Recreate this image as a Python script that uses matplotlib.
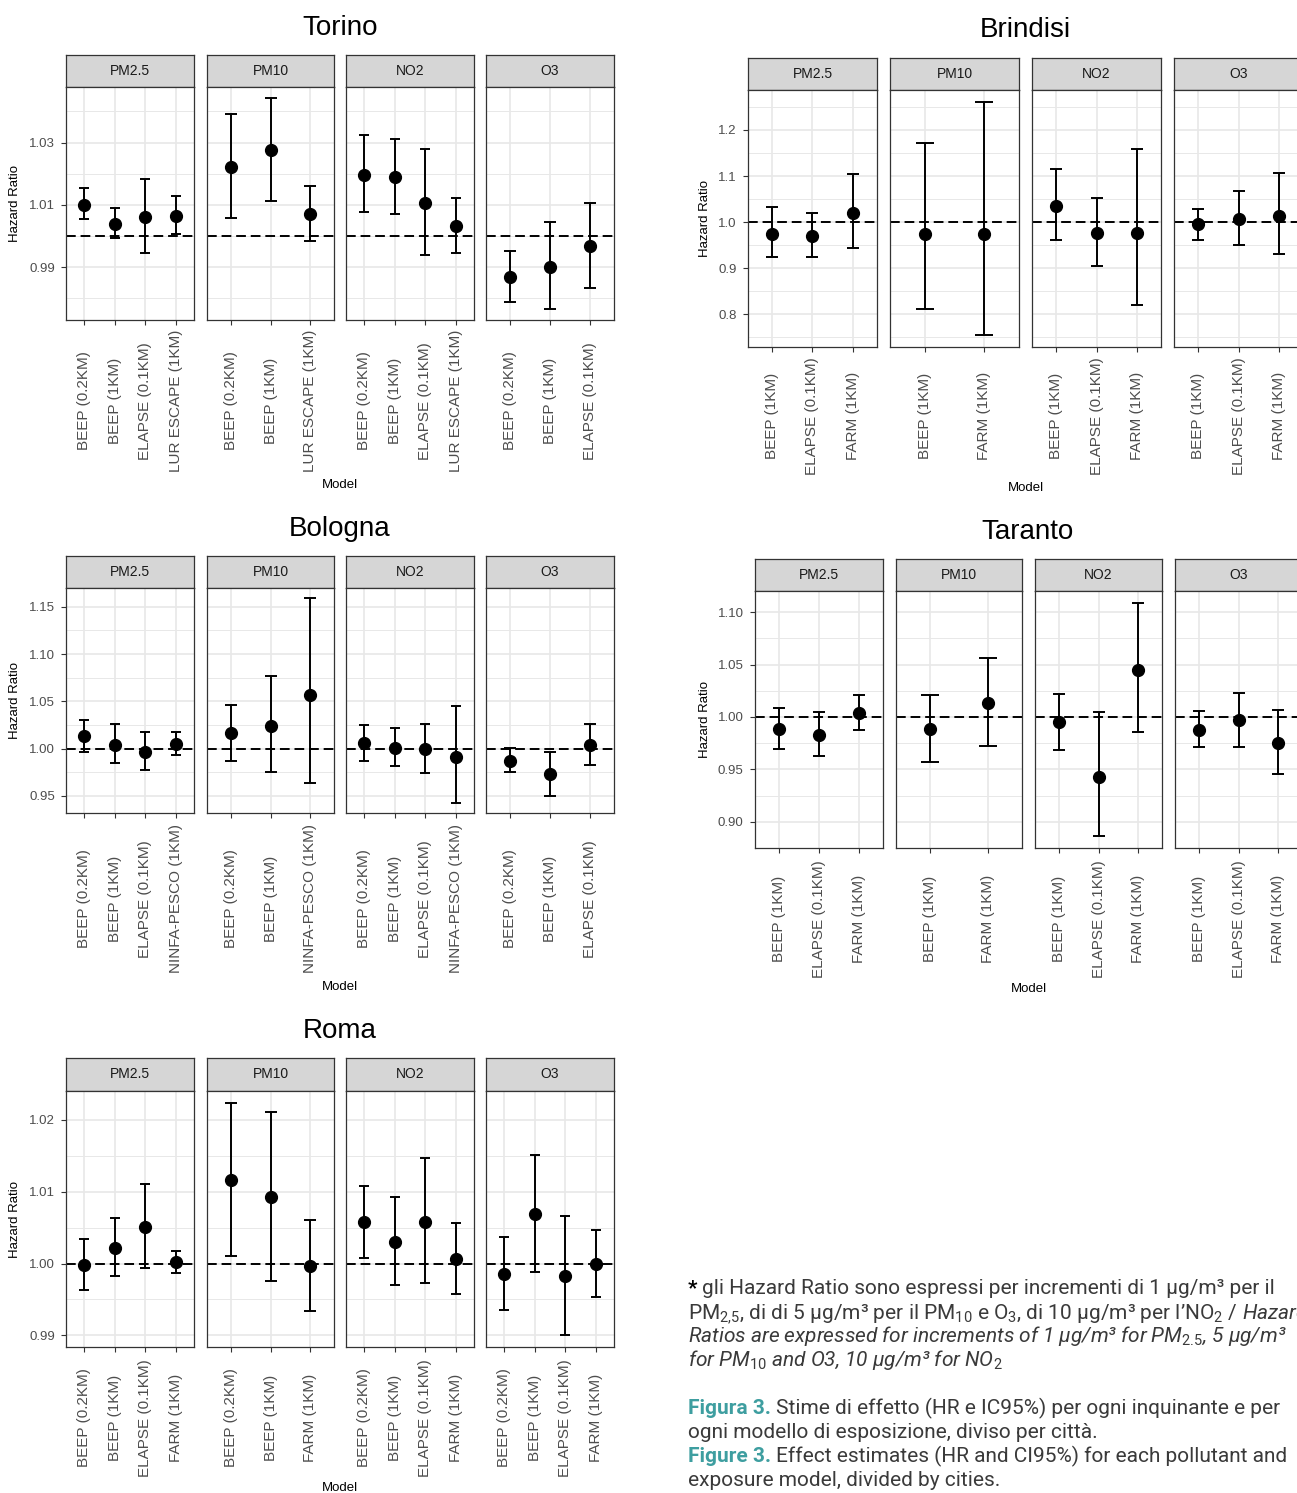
import matplotlib
matplotlib.use("Agg")
import matplotlib.pyplot as plt
from matplotlib.ticker import FixedLocator
import numpy as np

plt.rcParams['font.family'] = ['Liberation Sans', 'DejaVu Sans']
plt.rcParams['mathtext.fontset'] = 'custom'
plt.rcParams['mathtext.rm'] = 'Roboto'
plt.rcParams['mathtext.it'] = 'Roboto:italic'
plt.rcParams['mathtext.bf'] = 'Roboto:bold'

W, H, DPI = 1297, 1493, 100

POLLUTANTS = ["PM2.5", "PM10", "NO2", "O3"]

# ---------------- data ----------------
torino_models = [
    ["BEEP (0.2KM)", "BEEP (1KM)", "ELAPSE (0.1KM)", "LUR ESCAPE (1KM)"],
    ["BEEP (0.2KM)", "BEEP (1KM)", "LUR ESCAPE (1KM)"],
    ["BEEP (0.2KM)", "BEEP (1KM)", "ELAPSE (0.1KM)", "LUR ESCAPE (1KM)"],
    ["BEEP (0.2KM)", "BEEP (1KM)", "ELAPSE (0.1KM)"],
]
torino_hr = [[1.0100, 1.0039, 1.0061, 1.0065], [1.0221, 1.0277, 1.0072],
             [1.0197, 1.0190, 1.0106, 1.0031], [0.9870, 0.9902, 0.9967]]
torino_lo = [[1.0054, 0.9993, 0.9945, 1.0007], [1.0057, 1.0114, 0.9985],
             [1.0078, 1.0071, 0.9939, 0.9945], [0.9790, 0.9765, 0.9833]]
torino_hi = [[1.0153, 1.0089, 1.0182, 1.0127], [1.0393, 1.0444, 1.0162],
             [1.0323, 1.0312, 1.0279, 1.0123], [0.9953, 1.0046, 1.0105]]
torino_yticks = [0.99, 1.01, 1.03]
torino_yticklabels = ["0.99", "1.01", "1.03"]

brindisi_models = [
    ["BEEP (1KM)", "ELAPSE (0.1KM)", "FARM (1KM)"],
    ["BEEP (1KM)", "FARM (1KM)"],
    ["BEEP (1KM)", "ELAPSE (0.1KM)", "FARM (1KM)"],
    ["BEEP (1KM)", "ELAPSE (0.1KM)", "FARM (1KM)"],
]
brindisi_hr = [[0.9748, 0.9698, 1.0201], [0.9741, 0.9748],
               [1.0353, 0.9755, 0.9755], [0.9950, 1.0065, 1.0144]]
brindisi_lo = [[0.9237, 0.9237, 0.9432], [0.8115, 0.7547],
               [0.9604, 0.9058, 0.8201], [0.9604, 0.9511, 0.9317]]
brindisi_hi = [[1.0331, 1.0209, 1.1043], [1.1727, 1.2612],
               [1.1158, 1.0525, 1.1597], [1.0295, 1.0683, 1.1065]]
brindisi_yticks = [0.8, 0.9, 1.0, 1.1, 1.2]
brindisi_yticklabels = ["0.8", "0.9", "1.0", "1.1", "1.2"]

bologna_models = [
    ["BEEP (0.2KM)", "BEEP (1KM)", "ELAPSE (0.1KM)", "NINFA-PESCO (1KM)"],
    ["BEEP (0.2KM)", "BEEP (1KM)", "NINFA-PESCO (1KM)"],
    ["BEEP (0.2KM)", "BEEP (1KM)", "ELAPSE (0.1KM)", "NINFA-PESCO (1KM)"],
    ["BEEP (0.2KM)", "BEEP (1KM)", "ELAPSE (0.1KM)"],
]
bologna_hr = [[1.0138, 1.0042, 0.9965, 1.0049], [1.0163, 1.0240, 1.0565],
              [1.0057, 1.0007, 1.0000, 0.9912], [0.9873, 0.9728, 1.0039]]
bologna_lo = [[0.9968, 0.9845, 0.9774, 0.9933], [0.9869, 0.9753, 0.9640],
              [0.9866, 0.9813, 0.9746, 0.9428], [0.9753, 0.9498, 0.9830]]
bologna_hi = [[1.0307, 1.0261, 1.0180, 1.0177], [1.0459, 1.0763, 1.1590],
              [1.0254, 1.0219, 1.0265, 1.0452], [1.0007, 0.9968, 1.0265]]
bologna_yticks = [0.95, 1.00, 1.05, 1.10, 1.15]
bologna_yticklabels = ["0.95", "1.00", "1.05", "1.10", "1.15"]

taranto_models = [
    ["BEEP (1KM)", "ELAPSE (0.1KM)", "FARM (1KM)"],
    ["BEEP (1KM)", "FARM (1KM)"],
    ["BEEP (1KM)", "ELAPSE (0.1KM)", "FARM (1KM)"],
    ["BEEP (1KM)", "ELAPSE (0.1KM)", "FARM (1KM)"],
]
taranto_hr = [[0.9886, 0.9832, 1.0038], [0.9883, 1.0133],
              [0.9952, 0.9429, 1.0450], [0.9880, 0.9968, 0.9756]]
taranto_lo = [[0.9696, 0.9626, 0.9873], [0.9572, 0.9727],
              [0.9689, 0.8862, 0.9854], [0.9712, 0.9712, 0.9458]]
taranto_hi = [[1.0086, 1.0044, 1.0206], [1.0206, 1.0561],
              [1.0222, 1.0044, 1.1090], [1.0057, 1.0225, 1.0063]]
taranto_yticks = [0.90, 0.95, 1.00, 1.05, 1.10]
taranto_yticklabels = ["0.90", "0.95", "1.00", "1.05", "1.10"]

roma_models = [
    ["BEEP (0.2KM)", "BEEP (1KM)", "ELAPSE (0.1KM)", "FARM (1KM)"],
    ["BEEP (0.2KM)", "BEEP (1KM)", "FARM (1KM)"],
    ["BEEP (0.2KM)", "BEEP (1KM)", "ELAPSE (0.1KM)", "FARM (1KM)"],
    ["BEEP (0.2KM)", "BEEP (1KM)", "ELAPSE (0.1KM)", "FARM (1KM)"],
]
roma_hr = [[0.99977, 1.00216, 1.00506, 1.00018], [1.01164, 1.00920, 0.99968],
           [1.00575, 1.00304, 1.00584, 1.00064], [0.99853, 1.00690, 0.99821, 1.00000]]
roma_lo = [[0.99627, 0.99825, 0.99940, 0.99862], [1.00101, 0.99756, 0.99333],
           [1.00083, 0.99696, 0.99728, 0.99581], [0.99351, 0.99885, 0.99001, 0.99535]]
roma_hi = [[1.00345, 1.00626, 1.01100, 1.00170], [1.02237, 1.02103, 1.00607],
           [1.01077, 1.00925, 1.01473, 1.00557], [1.00373, 1.01514, 1.00667, 1.00469]]
roma_yticks = [0.99, 1.00, 1.01, 1.02]
roma_yticklabels = ["0.99", "1.00", "1.01", "1.02"]

# ---------------- layout (pixels) ----------------
LEFT_X = [(66, 194), (207, 334), (346, 474), (486, 614)]
cities = [
    dict(name="Torino", models=torino_models, hr=torino_hr, lo=torino_lo, hi=torino_hi,
         yt=torino_yticks, ytl=torino_yticklabels, fx=LEFT_X,
         st=55, pt=87, pb=320, title=(340, 28), model_y=485, ylab_x=15, lab_c=401),
    dict(name="Brindisi", models=brindisi_models, hr=brindisi_hr, lo=brindisi_lo, hi=brindisi_hi,
         yt=brindisi_yticks, ytl=brindisi_yticklabels,
         fx=[(748, 877), (890, 1019), (1032, 1161), (1174, 1303)],
         st=58, pt=90, pb=347, title=(1025, 30), model_y=488, ylab_x=705, lab_c=416),
    dict(name="Bologna", models=bologna_models, hr=bologna_hr, lo=bologna_lo, hi=bologna_hi,
         yt=bologna_yticks, ytl=bologna_yticklabels, fx=LEFT_X,
         st=556, pt=588, pb=813, title=(340, 529), model_y=987, ylab_x=15, lab_c=899),
    dict(name="Taranto", models=taranto_models, hr=taranto_hr, lo=taranto_lo, hi=taranto_hi,
         yt=taranto_yticks, ytl=taranto_yticklabels,
         fx=[(755, 883), (896, 1022), (1035, 1162), (1175, 1302)],
         st=559, pt=591, pb=848, title=(1028, 532), model_y=989, ylab_x=705, lab_c=919),
    dict(name="Roma", models=roma_models, hr=roma_hr, lo=roma_lo, hi=roma_hi,
         yt=roma_yticks, ytl=roma_yticklabels, fx=LEFT_X,
         st=1058, pt=1091, pb=1347, title=(340, 1031), model_y=1488, ylab_x=15, lab_c=1418),
]

fig = plt.figure(figsize=(W / DPI, H / DPI), dpi=DPI)
fig.patch.set_facecolor("white")

BORDER = "#333333"
GRID = "#e8e8e8"
TICK_PX = 5
PT = 72.0 / DPI


def px_axes(x0, x1, y0, y1):
    return fig.add_axes([x0 / W, 1 - y1 / H, (x1 - x0) / W, (y1 - y0) / H])


for c in cities:
    allv = [v for grp in c["lo"] for v in grp] + [v for grp in c["hi"] for v in grp] + [1.0]
    vmin, vmax = min(allv), max(allv)
    pad = 0.05 * (vmax - vmin)
    ylim = (vmin - pad, vmax + pad)
    step = c["yt"][1] - c["yt"][0]
    minors = list(np.arange(c["yt"][0] - step / 2, c["yt"][-1] + step, step))

    for j, pol in enumerate(POLLUTANTS):
        x0, x1 = c["fx"][j]
        # strip
        sax = px_axes(x0, x1, c["st"], c["pt"])
        sax.set_facecolor("#d6d6d6")
        sax.set_xticks([]); sax.set_yticks([])
        for s in sax.spines.values():
            s.set_color(BORDER); s.set_linewidth(0.9)
        sax.text(0.5, 0.5, pol, ha="center", va="center", fontsize=10,
                 color="#1a1a1a", transform=sax.transAxes)

        # panel
        ax = px_axes(x0, x1, c["pt"], c["pb"])
        models = c["models"][j]
        n = len(models)
        xs = np.arange(1, n + 1)
        hr = np.array(c["hr"][j]); lo = np.array(c["lo"][j]); hi = np.array(c["hi"][j])
        ax.set_xlim(0.4, n + 0.6)
        ax.set_ylim(*ylim)
        ax.set_axisbelow(True)
        ax.yaxis.set_major_locator(FixedLocator(c["yt"]))
        ax.yaxis.set_minor_locator(FixedLocator(minors))
        ax.set_yticklabels(c["ytl"])
        ax.set_xticks(xs)
        unit_px = (x1 - x0) / (n + 0.2)
        label_pad = (c["lab_c"] - c["pb"] - TICK_PX) * PT
        ax.set_xticklabels(models, rotation=90, ha="center", va="center",
                           fontsize=11, color="#4d4d4d")
        ax.grid(which="major", axis="both", color=GRID, lw=1.2)
        ax.grid(which="minor", axis="y", color=GRID, lw=0.7)
        ax.tick_params(axis="x", which="major", length=TICK_PX * PT, width=0.8,
                       color=BORDER, pad=label_pad)
        ax.tick_params(axis="y", which="major", length=TICK_PX * PT, width=0.8,
                       color=BORDER, pad=4.5, labelsize=9.5, labelcolor="#4d4d4d")
        ax.tick_params(axis="y", which="minor", length=0)
        if j > 0:
            ax.tick_params(axis="y", which="major", left=False, labelleft=False)
        for s in ax.spines.values():
            s.set_color(BORDER); s.set_linewidth(0.9)

        ax.axhline(1.0, color="black", lw=1.4, ls=(0, (5, 2.5)), zorder=2)
        cap = 0.16 * unit_px * PT
        ax.errorbar(xs, hr, yerr=[hr - lo, hi - hr], fmt="o", color="black",
                    ms=8.5, elinewidth=1.4, capsize=cap, capthick=1.4, zorder=3)

    # titles and axis titles
    fx0 = c["fx"][0][0]; fx1 = c["fx"][-1][1]
    fig.text(c["title"][0] / W, 1 - c["title"][1] / H, c["name"], ha="center",
             va="center", fontsize=20, color="black")
    fig.text((fx0 + fx1) / 2 / W, 1 - c["model_y"] / H, "Model", ha="center",
             va="center", fontsize=9.5, color="black")
    fig.text(c["ylab_x"] / W, 1 - (c["pt"] + c["pb"]) / 2 / H, "Hazard Ratio",
             rotation=90, ha="center", va="center", fontsize=9.5, color="black")

# ---------------- caption ----------------
CAP_FS = 15
TXT = "#3a3a3a"
TEAL = "#3e9ea0"
CAP_FAMILY = ["Roboto", "DejaVu Sans"]
renderer = fig.canvas.get_renderer()


def seg_text(x_px, y_px, s, **kw):
    t = fig.text(x_px / W, 1 - y_px / H, s, ha="left", va="baseline",
                 fontsize=CAP_FS, family=CAP_FAMILY, **kw)
    bb = t.get_window_extent(renderer=renderer)
    return bb.x1


X0 = 688
base = [1294, 1318, 1342, 1366, 1414, 1438, 1462, 1486]

xe = seg_text(X0, base[0], "*", color="black", weight="bold")
seg_text(xe + 5, base[0], "gli Hazard Ratio sono espressi per incrementi di 1 µg/m³ per il",
         color=TXT)
seg_text(X0, base[1],
         r"PM$_{2{,}5}$, di di 5 µg/m³ per il PM$_{10}$ e O$_{3}$, di 10 µg/m³ per l’NO$_{2}$ $\mathit{/\ Hazard}$",
         color=TXT)
seg_text(X0, base[2],
         r"Ratios are expressed for increments of 1 µg/m³ for PM$_{\mathit{2.5}}$, 5 µg/m³",
         color=TXT, style="italic")
seg_text(X0, base[3], r"for PM$_{\mathit{10}}$ and O3, 10 µg/m³ for NO$_{\mathit{2}}$",
         color=TXT, style="italic")
xe = seg_text(X0, base[4], "Figura 3.", color=TEAL, weight="bold")
seg_text(xe + 5, base[4], "Stime di effetto (HR e IC95%) per ogni inquinante e per", color=TXT)
seg_text(X0, base[5], "ogni modello di esposizione, diviso per città.", color=TXT)
xe = seg_text(X0, base[6], "Figure 3.", color=TEAL, weight="bold")
seg_text(xe + 5, base[6], "Effect estimates (HR and CI95%) for each pollutant and", color=TXT)
seg_text(X0, base[7], "exposure model, divided by cities.", color=TXT)

fig.savefig("out.png", dpi=DPI, facecolor="white")
